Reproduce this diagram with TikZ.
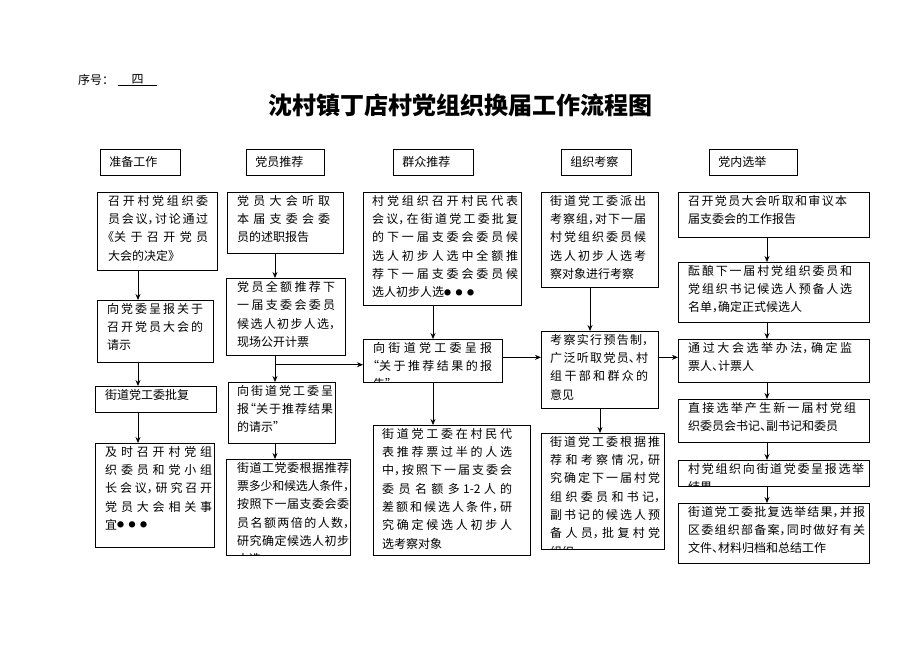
\documentclass[tikz,border=0pt]{standalone}
\usepackage{fontspec}
\newfontfamily\cjk[RawFeature={+halt}]{Noto Sans CJK SC}
\usepackage{tikz}
\usetikzlibrary{positioning, arrows.meta}
\XeTeXlinebreaklocale "zh"
\XeTeXlinebreakskip = 0pt plus 12pt minus 0.6pt
\newcommand\tridot{\raisebox{1.6pt}{\fontsize{7}{7}\selectfont ●\hspace{4.5pt}●\hspace{4.5pt}●}}

\begin{document}
\begin{tikzpicture}[x=1pt, y=-1pt,
                  box/.style={draw, line width=0.7pt, inner sep=0pt, anchor=north west},
                  stage/.style={box, minimum height=26, inner xsep=9pt, text width=#1,
                    align=left, font=\cjk\fontsize{12}{14}\selectfont},
                  txt/.style={anchor=north west, inner xsep=0pt, inner ysep=3pt, text width=#1,
                    align=justify, font=\cjk\fontsize{12}{18.3}\selectfont},
                  flow/.style={->, >={Stealth[length=6pt,width=5pt]}, line width=0.7pt}
                  ]
                  \useasboundingbox (0,0) rectangle (920,651);

                  % heading
                  \node[anchor=west, inner sep=0pt, font=\cjk\fontsize{12}{14}\selectfont] (serial) at (78,80) {序号：};
                  \node[anchor=west, inner sep=0pt, font=\cjk\fontsize{12}{14}\selectfont] (num) at (118,80) {\underline{\makebox[39pt]{四}}};
                  \node[font=\cjk\bfseries\fontsize{24}{28}\selectfont] (title) at (460,105) {沈村镇丁店村党组织换届工作流程图};

                  % stages
                  \node[stage=62] (h1) at (100,149) {准备工作};
                  \node[stage=60] (h2) at (246,149) {党员推荐};
                  \node[stage=62] (h3) at (393,149) {群众推荐};
                  \node[stage=52] (h4) at (561,149) {组织考察};
                  \node[stage=70] (h5) at (709,149) {党内选举};

                  % boxes
                  \node[box, minimum width=120, minimum height=78] (a1) at (97,192) {};
                  \node[box, minimum width=116, minimum height=62] (a2) at (97,300) {};
                  \node[box, minimum width=121, minimum height=26] (a3) at (95,386) {};
                  \node[box, minimum width=119, minimum height=104] (a4) at (95,443) {};

                  \node[box, minimum width=116, minimum height=61] (b1) at (227,192) {};
                  \node[box, minimum width=119, minimum height=77] (b2) at (226,278) {};
                  \node[box, minimum width=107, minimum height=61] (b3) at (228,382) {};
                  \node[box, minimum width=124, minimum height=96] (b4) at (226,459) {};

                  \node[box, minimum width=158, minimum height=113] (c1) at (363,192) {};
                  \node[box, minimum width=139, minimum height=43] (c2) at (363,339) {};
                  \node[box, minimum width=157, minimum height=130] (c3) at (373,425) {};

                  \node[box, minimum width=117, minimum height=95] (d1) at (541,192) {};
                  \node[box, minimum width=117, minimum height=77] (d2) at (541,331) {};
                  \node[box, minimum width=123, minimum height=116] (d3) at (541,433) {};

                  \node[box, minimum width=191, minimum height=45] (e1) at (678,192) {};
                  \node[box, minimum width=191, minimum height=60] (e2) at (678,262) {};
                  \node[box, minimum width=191, minimum height=43] (e3) at (678,339) {};
                  \node[box, minimum width=191, minimum height=43] (e4) at (678,399) {};
                  \node[box, minimum width=191, minimum height=26] (e5) at (678,460) {};
                  \node[box, minimum width=191, minimum height=60] (e6) at (678,503) {};

                  % texts
                  \node[txt=100] (a1t) at ([xshift=11]a1.north west) {召开村党组织委\linebreak 员会议，讨论通过\linebreak 《关于召开党员\linebreak 大会的决定》};
                  \node[txt=96] (a2t) at ([xshift=10]a2.north west) {向党委呈报关于\linebreak 召开党员大会的\linebreak 请示};
                  \node[txt=105] (a3t) at ([xshift=10]a3.north west) {街道党工委批复};
                  \node[txt=107] (a4t) at ([xshift=10]a4.north west) {及时召开村党组\linebreak 织委员和党小组\linebreak 长会议，研究召开\linebreak 党员大会相关事\linebreak 宜\tridot};

                  \node[txt=93] (b1t) at ([xshift=10]b1.north west) {党员大会听取\linebreak 本届支委会委\linebreak 员的述职报告};
                  \node[txt=98] (b2t) at ([xshift=11]b2.north west) {党员全额推荐下\linebreak 一届支委会委员\linebreak 候选人初步人选，\linebreak 现场公开计票};
                  \node[txt=96] (b3t) at ([xshift=9]b3.north west) {向街道党工委呈\linebreak 报“关于推荐结果\linebreak 的请示”};
                  \begin{scope}
                    \clip (b4.north west) rectangle (b4.south east);
                    \node[txt=112] (b4t) at ([xshift=11]b4.north west) {街道工党委根据推荐\linebreak 票多少和候选人条件，\linebreak 按照下一届支委会委\linebreak 员名额两倍的人数，\linebreak 研究确定候选人初步\linebreak 人选};
                  \end{scope}

                  \node[txt=146] (c1t) at ([xshift=9]c1.north west) {村党组织召开村民代表\linebreak 会议，在街道党工委批复\linebreak 的下一届支委会委员候\linebreak 选人初步人选中全额推\linebreak 荐下一届支委会委员候\linebreak 选人初步人选\tridot};
                  \begin{scope}
                    \clip (c2.north west) rectangle (c2.south east);
                    \node[txt=119] (c2t) at ([xshift=10]c2.north west) {向街道党工委呈报\linebreak “关于推荐结果的报\linebreak 告”};
                  \end{scope}
                  \node[txt=130] (c3t) at ([xshift=9]c3.north west) {街道党工委在村民代\linebreak 表推荐票过半的人选\linebreak 中，按照下一届支委会\linebreak 委员名额多 1-2 人的\linebreak 差额和候选人条件，研\linebreak 究确定候选人初步人\linebreak 选考察对象};

                  \node[txt=96] (d1t) at ([xshift=9]d1.north west) {街道党工委派出\linebreak 考察组，对下一届\linebreak 村党组织委员候\linebreak 选人初步人选考\linebreak 察对象进行考察};
                  \node[txt=98] (d2t) at ([xshift=9]d2.north west) {考察实行预告制，\linebreak 广泛听取党员、村\linebreak 组干部和群众的\linebreak 意见};
                  \begin{scope}
                    \clip (d3.north west) rectangle (d3.south east);
                    \node[txt=110] (d3t) at ([xshift=9]d3.north west) {街道党工委根据推\linebreak 荐和考察情况，研\linebreak 究确定下一届村党\linebreak 组织委员和书记，\linebreak 副书记的候选人预\linebreak 备人员，批复村党\linebreak 组织};
                  \end{scope}

                  \node[txt=159] (e1t) at ([xshift=10]e1.north west) {召开党员大会听取和审议本\linebreak 届支委会的工作报告};
                  \node[txt=164] (e2t) at ([xshift=10]e2.north west) {酝酿下一届村党组织委员和\linebreak 党组织书记候选人预备人选\linebreak 名单，确定正式候选人};
                  \node[txt=164] (e3t) at ([xshift=10]e3.north west) {通过大会选举办法，确定监\linebreak 票人、计票人};
                  \node[txt=168] (e4t) at ([xshift=10]e4.north west) {直接选举产生新一届村党组\linebreak 织委员会书记、副书记和委员};
                  \begin{scope}
                    \clip (e5.north west) rectangle (e5.south east);
                    \node[txt=176] (e5t) at ([xshift=10]e5.north west) {村党组织向街道党委呈报选举\linebreak 结果};
                  \end{scope}
                  \node[txt=177] (e6t) at ([xshift=10]e6.north west) {街道党工委批复选举结果，并报\linebreak 区委组织部备案，同时做好有关\linebreak 文件、材料归档和总结工作};

                  % arrows
                  \draw[flow] ([xshift=41]a1.south west) -- ([xshift=41]a1.south west |- a2.north);
                  \draw[flow] ([xshift=41]a2.south west) -- ([xshift=41]a2.south west |- a3.north);
                  \draw[flow] ([xshift=43]a3.south west) -- ([xshift=43]a3.south west |- a4.north);

                  \draw[flow] ([xshift=48]b1.south west) -- ([xshift=48]b1.south west |- b2.north);
                  \draw[flow] ([xshift=49]b2.south west) -- ([xshift=49]b2.south west |- b3.north);
                  \draw[flow] ([xshift=47]b3.south west) -- ([xshift=47]b3.south west |- b4.north);
                  \coordinate (split) at ([xshift=49,yshift=-9]b2.south west);
                  \draw[flow] (split) -- (split -| c2.west);

                  \draw[flow] ([xshift=70]c1.south west) -- ([xshift=70]c1.south west |- c2.north);
                  \draw[flow] ([xshift=70]c2.south west) -- ([xshift=70]c2.south west |- c3.north);
                  \draw[flow] ([yshift=3.5]c2.east) -- ([yshift=3.5]c2.east -| d2.west);

                  \draw[flow] ([xshift=49]d1.south west) -- ([xshift=49]d1.south west |- d2.north);
                  \draw[flow] ([xshift=59]d2.south west) -- ([xshift=59]d2.south west |- d3.north);
                  \draw[flow] ([yshift=3.5]e3.west -| d2.east) -- ([yshift=3.5]e3.west);

                  \draw[flow] ([xshift=89]e1.south west) -- ([xshift=89]e1.south west |- e2.north);
                  \draw[flow] ([xshift=89]e2.south west) -- ([xshift=89]e2.south west |- e3.north);
                  \draw[flow] ([xshift=89]e3.south west) -- ([xshift=89]e3.south west |- e4.north);
                  \draw[flow] ([xshift=89]e4.south west) -- ([xshift=89]e4.south west |- e5.north);
                  \draw[flow] ([xshift=89]e5.south west) -- ([xshift=89]e5.south west |- e6.north);
\end{tikzpicture}
\end{document}
